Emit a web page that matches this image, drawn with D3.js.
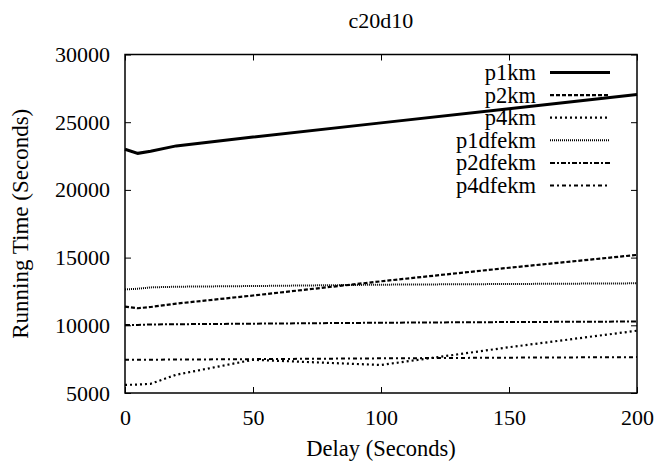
<!DOCTYPE html>
<html>
<head>
<meta charset="utf-8">
<script src="https://cdn.jsdelivr.net/npm/d3@7"></script>
<style>
  body { margin: 0; background: #fff; }
</style>
</head>
<body>
<div id="chart"></div>
<script>
// delay values (seconds)
const delays = [0, 5, 10, 20, 50, 100, 150, 200];

// running time series (seconds)
const p1km     = [23000, 22700, 22850, 23250, 23900, 24950, 26000, 27050];
const p2km     = [11380, 11260, 11350, 11600, 12200, 13250, 14250, 15200];
const p4km     = [5600, 5620, 5680, 6350, 7450, 7070, 8380, 9600];
const p1dfekm  = [12650, 12700, 12800, 12850, 12900, 13000, 13050, 13100];
const p2dfekm  = [10020, 10030, 10060, 10080, 10120, 10190, 10240, 10280];
const p4dfekm  = [7450, 7450, 7460, 7470, 7500, 7560, 7610, 7650];

const seriesNames = ["p1km", "p2km", "p4km", "p1dfekm", "p2dfekm", "p4dfekm"];
const seriesValues = [p1km, p2km, p4km, p1dfekm, p2dfekm, p4dfekm];

const xTicks = [0, 50, 100, 150, 200];
const yTicks = [5000, 10000, 15000, 20000, 25000, 30000];

// line styles, gnuplot-like
const dashes = [null, "4,2", "2,3", "1,1", "5,2,2,2", "4,3,2,3"];
const widths = [3, 2.2, 2.2, 2, 2, 2];

const font = "'Liberation Serif', 'Times New Roman', Tinos, 'DejaVu Serif', serif";

const width = 656, height = 465;
const margin = {top: 54.5, right: 19, bottom: 72, left: 125};

const svg = d3.select("#chart").append("svg")
    .attr("width", width)
    .attr("height", height);

const x = d3.scaleLinear().domain([0, 200]).range([margin.left, width - margin.right]);
const y = d3.scaleLinear().domain([5000, 30000]).range([height - margin.bottom, margin.top]);

const tick = 6;

// axes with inward ticks
const axB = svg.append("g")
    .attr("transform", `translate(0,${height - margin.bottom})`)
    .call(d3.axisBottom(x).tickValues(xTicks).tickSize(-tick).tickPadding(16));
const axT = svg.append("g")
    .attr("transform", `translate(0,${margin.top})`)
    .call(d3.axisTop(x).tickValues(xTicks).tickSize(-tick).tickFormat(""));
const axL = svg.append("g")
    .attr("transform", `translate(${margin.left},0)`)
    .call(d3.axisLeft(y).tickValues(yTicks).tickSize(-tick).tickPadding(15).tickFormat(d3.format("d")));
const axR = svg.append("g")
    .attr("transform", `translate(${width - margin.right},0)`)
    .call(d3.axisRight(y).tickValues(yTicks).tickSize(-tick).tickFormat(""));

[axB, axT, axL, axR].forEach(g => {
    g.select(".domain").remove();
    g.attr("font-family", null).attr("font-size", null);
    g.selectAll("line").attr("stroke", "#000");
    g.selectAll("text").style("font-size", "22px").style("font-family", font).attr("fill", "#000");
});

// frame
svg.append("rect")
    .attr("x", margin.left)
    .attr("y", margin.top)
    .attr("width", width - margin.left - margin.right)
    .attr("height", height - margin.top - margin.bottom)
    .attr("fill", "none")
    .attr("stroke", "#000")
    .attr("stroke-width", 1.5);

const line = d3.line()
    .x((d, i) => x(delays[i]))
    .y(d => y(d));

seriesValues.forEach((vals, i) => {
    svg.append("path")
        .datum(vals)
        .attr("fill", "none")
        .attr("stroke", "#000")
        .attr("stroke-width", widths[i])
        .attr("stroke-dasharray", dashes[i])
        .attr("d", line);
});

function label(sel, size) {
    return sel.style("font-family", font).style("font-size", size).attr("fill", "#000");
}

// legend
seriesNames.forEach((name, i) => {
    const ly = 72.5 + i * 22.6;
    svg.append("text")
        .attr("x", 536)
        .attr("y", ly)
        .attr("dy", "0.33em")
        .attr("text-anchor", "end")
        .call(label, "22.5px")
        .text(name);
    svg.append("line")
        .attr("x1", 550).attr("x2", 610)
        .attr("y1", ly).attr("y2", ly)
        .attr("stroke", "#000")
        .attr("stroke-width", widths[i])
        .attr("stroke-dasharray", dashes[i]);
});

// title
svg.append("text")
    .attr("x", (margin.left + width - margin.right) / 2)
    .attr("y", 28)
    .attr("text-anchor", "middle")
    .call(label, "22px")
    .text("c20d10");

// axis labels
svg.append("text")
    .attr("x", (margin.left + width - margin.right) / 2)
    .attr("y", 456)
    .attr("text-anchor", "middle")
    .call(label, "22.5px")
    .text("Delay (Seconds)");
svg.append("text")
    .attr("transform", `translate(28,${(margin.top + height - margin.bottom) / 2}) rotate(-90)`)
    .attr("text-anchor", "middle")
    .call(label, "23px")
    .text("Running Time (Seconds)");
</script>
</body>
</html>
